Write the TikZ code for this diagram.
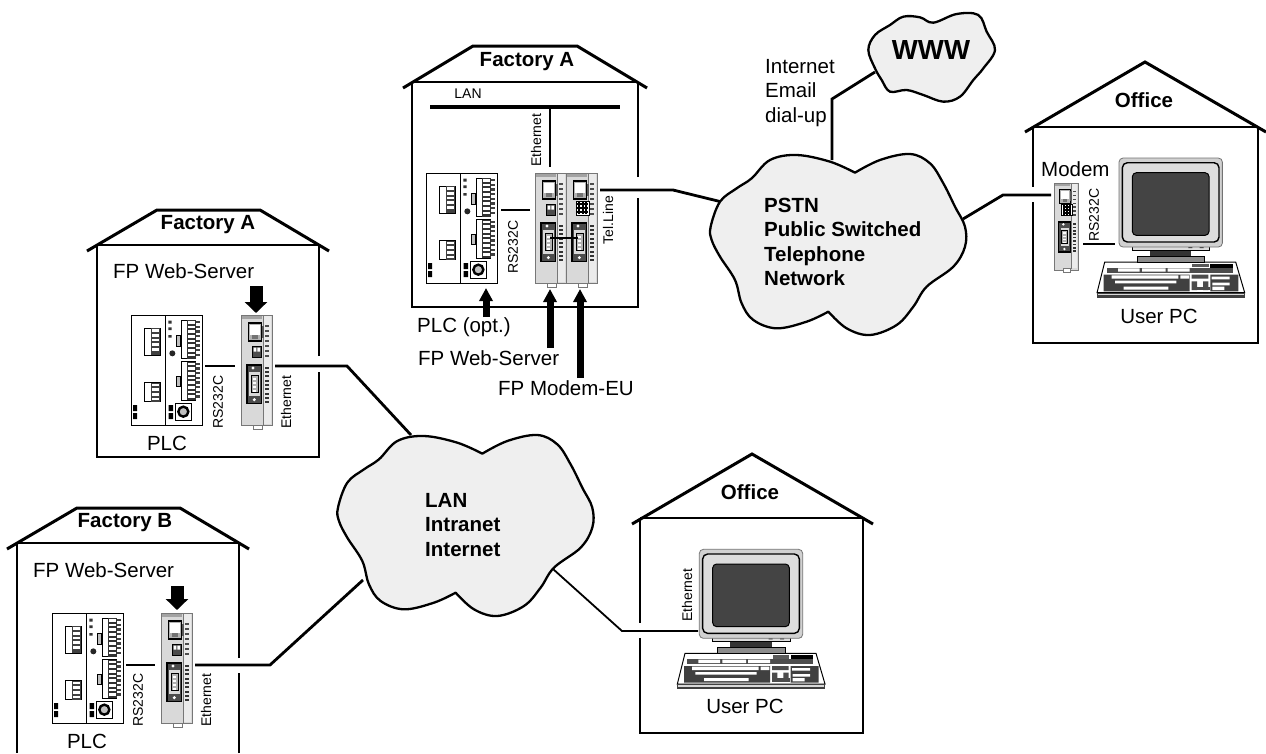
\documentclass[tikz,border=0pt]{standalone}
\usepackage{fontspec}
\setmainfont{Liberation Sans}
\usetikzlibrary{arrows.meta}
\definecolor{cloudfill}{HTML}{EFEFEF}
\definecolor{modfill}{HTML}{D9D9D9}
\definecolor{modline}{HTML}{777777}
\definecolor{monfill}{HTML}{DDDDDD}
\definecolor{screenfill}{HTML}{444444}
\newcommand{\lbl}{\fontsize{20.5}{24.5}\selectfont}
\newcommand{\blbl}{\fontsize{20.5}{24.5}\selectfont\bfseries}
\newcommand{\slbl}{\fontsize{14}{16}\selectfont}
\tikzset{
  wall/.style={line width=2.2pt},
  roofline/.style={line width=3pt,line cap=butt},
  conn/.style={line width=2.8pt,line join=miter},
  thickconn/.style={line width=3.4pt,line join=miter},
  thinconn/.style={line width=1.8pt,line join=miter},
  bigarrow/.style={line width=7pt,-{Triangle[length=13pt,width=13pt]}},
  fatarrow/.style={line width=13pt,-{Triangle[length=11pt,width=22pt]}},
  txt/.style={inner sep=0pt,font=\lbl},
  btxt/.style={inner sep=0pt,font=\blbl},
  stxt/.style={inner sep=0pt,font=\slbl,rotate=90},
  cloudline/.style={line width=2.3pt,fill=cloudfill,line join=round},
  plcbox/.style={draw,line width=1pt,fill=white,minimum width=71pt,minimum height=110pt,inner sep=0pt,anchor=north west},
  modbox/.style={draw=modline,line width=.8pt,fill=modfill,minimum width=31pt,minimum height=110pt,inner sep=0pt,anchor=north west},
  smallmodbox/.style={draw=modline,line width=.8pt,fill=modfill,minimum width=24pt,minimum height=87pt,inner sep=0pt,anchor=north west},
  cloudshape/.pic={
    \draw[cloudline] plot[smooth,tension=.6] coordinates {(465,518)(540,480)(630,462)(690,490)(730,550)(765,620)(795,680)(795,740)(760,800)(680,860)(640,920)(590,975)(510,1005)(440,985)(385,935)}
      -- plot[smooth,tension=.6] coordinates {(385,935)(320,965)(230,985)(160,960)(125,910)(105,840)(60,770)(35,720)(32,680)(60,605)(110,565)(155,535)(210,480)(290,465)(390,485)(465,518)} -- cycle;
  },
  wwwshape/.pic={
    \draw[cloudline] plot[smooth cycle,tension=.6] coordinates {(505,150)(525,105)(570,75)(610,50)(660,52)(700,68)(770,42)(835,45)(860,95)(885,150)(850,205)(820,240)(780,290)(730,305)(670,285)(620,270)(570,275)(545,240)(525,205)};
  },
  modunit/.pic={
    % local frame: 92 x 330, three times the pixel size
    \fill[black!8] (68,2) rectangle (90,328);
    \draw[modline,line width=.6pt] (68,0) -- (68,330);
    \fill[modfill!75!black] (4,3) rectangle (62,11);
    \draw[line width=1.1pt,fill=black!30] (22,24) rectangle (62,78);
    \fill[white] (27,30) rectangle (57,60);
    \fill[black!55] (33,60) rectangle (51,72);
    \fill[black!65] (62,32) rectangle (68,70);
    \draw[line width=.7pt,fill=black!70] (34,93) rectangle (60,126);
    \fill[white] (38,98) rectangle (46,110) (49,98) rectangle (57,110);
    \draw[line width=1.2pt,fill=black!70] (18,150) rectangle (62,265);
    \fill[modfill] (25,172) rectangle (56,243);
    \draw[line width=1pt,fill=black!30] (30,182) rectangle (51,233);
    \foreach \yy in {190,202,214,226} \fill[white] (35,\yy) rectangle (46,\yy+5);
    \fill[white] (36,159) circle (5) (40,254) circle (5);
    \foreach \yy in {30,45,...,120} \fill[black!70] (73,\yy) rectangle (84,\yy+5);
    \foreach \yy in {155,168,...,265} \fill[black!80] (73,\yy) rectangle (84,\yy+6);
    \draw[modline,line width=.7pt,fill=white] (36,330) rectangle (64,343);
  },
  modemcross/.pic={
    \draw[line width=1pt,fill=white] (30,84) rectangle (70,126);
    \draw[line width=2pt] (34,92) -- (66,92) (34,104) -- (66,104) (34,116) -- (66,116) (40,86) -- (40,124) (50,86) -- (50,124) (60,86) -- (60,124);
  },
  plcunit/.pic={
    % local frame: 213 x 330, three times the pixel size
    \draw[line width=1.3pt] (104,0) -- (104,330);
    \foreach \yy/\hh in {40/80,203/57} {
      \draw[line width=.8pt,fill=white] (40,\yy) rectangle (87,\yy+\hh);
      \fill[black!75] (60,\yy) rectangle (87,\yy+\hh);
      \foreach \k in {0,14,...,\numexpr\hh-14\relax} \fill[white] (63,\yy+\k+3) rectangle (84,\yy+\k+11);
    }
    \foreach \yy in {15,140} {
      \draw[line width=.8pt,fill=white] (150,\yy) rectangle (194,\yy+116);
      \fill[black!80] (168,\yy) rectangle (194,\yy+116);
      \foreach \k in {0,14,...,102} {
        \fill[white] (171,\yy+\k+3) rectangle (191,\yy+\k+11);
        \fill[black!75] (194,\yy+\k+3) rectangle (207,\yy+\k+10);
      }
    }
    \fill[black!80] (112,17) rectangle (122,26) (112,37) rectangle (122,45) (112,60) rectangle (122,68);
    \draw[line width=.6pt,fill=black!25] (137,60) rectangle (147,93) (137,183) rectangle (147,215);
    \fill[black!85] (124,115) circle (9);
    \draw[line width=1pt,fill=white] (132,265) rectangle (182,315);
    \draw[line width=2.4pt,fill=black!25] (157,290) circle (15);
    \fill[black] (6,270) rectangle (18,288) (6,294) rectangle (18,312) (113,270) rectangle (126,288) (113,294) rectangle (126,312);
  },
  pcunit/.pic={
    % keyboard
    \draw[line width=1pt,fill=white] (45,340) -- (438,340) -- (465,432) -- (22,432) -- cycle;
    \fill[black!75] (22,432) rectangle (465,447);
    \fill[black!15] (24,435) rectangle (463,440);
    \fill[black!70] (52,358) rectangle (430,372);
    \fill[white] (85,359) rectangle (150,369) (157,359) rectangle (228,369) (234,359) rectangle (300,369);
    \fill[black] (362,345) rectangle (430,358);
    \fill[black!65] (308,345) rectangle (358,356);
    \fill[black!75] (42,378) rectangle (300,428) (362,378) rectangle (446,428);
    \fill[white] (66,380) rectangle (266,390) (76,396) rectangle (260,404) (102,414) rectangle (236,423) (272,380) rectangle (298,390) (366,384) rectangle (420,392) (368,402) rectangle (420,410) (368,414) rectangle (404,424);
    \fill[black!70] (306,378) rectangle (356,390) (306,398) rectangle (322,424) (340,398) rectangle (356,424);
    \fill[black!70] (306,415) rectangle (360,425);
    \draw[line width=.8pt,fill=black!45] (142,322) rectangle (345,340);
    \fill[black!80] (180,305) rectangle (305,322);
    \draw[line width=.8pt,fill=monfill] (128,285) rectangle (360,305);
    \fill[black!85] (296,288) rectangle (308,298) (330,288) rectangle (342,298);
    % monitor
    \draw[line width=.8pt,rounded corners=4pt,fill=black!18,draw=black!55] (88,28) rectangle (398,295);
    \draw[line width=1.4pt,rounded corners=5pt,fill=monfill] (98,42) rectangle (388,280);
    \draw[line width=1pt,rounded corners=4pt,fill=screenfill] (128,72) rectangle (358,260);
  }
}
\begin{document}
\begin{tikzpicture}[x=1pt,y=-1pt]
\useasboundingbox (0,0) rectangle (1266,753);

% ---------- connector end points
\coordinate (wwwS) at (875,72);  \coordinate (wwwB) at (832,99);  \coordinate (pstnN) at (832,160);
\coordinate (telA) at (600,190); \coordinate (telB) at (673,190); \coordinate (pstnW) at (722,202);
\coordinate (pstnE) at (963,219);\coordinate (offA) at (1003,195);\coordinate (offB) at (1051,195);
\coordinate (offC) at (1083,244);\coordinate (offD) at (1115,244);
\coordinate (lanL) at (430,107); \coordinate (lanR) at (620,107); \coordinate (lanT) at (550,107); \coordinate (lanD) at (550,167);
\coordinate (rsA) at (501,210);  \coordinate (rsB) at (530,210);
\coordinate (jmpA) at (550,238); \coordinate (jmpB) at (578,238);
\coordinate (arA1) at (486,317); \coordinate (arA2) at (486,288);
\coordinate (arB1) at (550,348); \coordinate (arB2) at (550,289);
\coordinate (arC1) at (580,378); \coordinate (arC2) at (580,289);
\coordinate (fa1) at (205,366);  \coordinate (fa2) at (235,366);
\coordinate (fa3) at (275,366);  \coordinate (fa4) at (347,366);  \coordinate (lanNW) at (411,435);
\coordinate (fa5) at (256,286);  \coordinate (fa6) at (256,313);
\coordinate (fb1) at (126,665);  \coordinate (fb2) at (155,665);
\coordinate (fb3) at (195,665);  \coordinate (fb4) at (270,665);  \coordinate (lanSW) at (363,580);
\coordinate (fb5) at (177,586);  \coordinate (fb6) at (177,610);
\coordinate (lanSE) at (553,569);\coordinate (ofA) at (622,631);  \coordinate (ofB) at (698,631);

% ---------- houses
% Factory A (top)
\draw[wall] (412,82) -- (638,82) (412,82) -- (412,307) -- (638,307) -- (638,198) (638,177) -- (638,82);
\draw[roofline] (403,88) -- (473,46) -- (577,46) -- (647,88);
\node[btxt] (hA) at (527,62) {Factory A};
% Factory A (left)
\draw[wall] (97,245) -- (319,245) (97,245) -- (97,457) -- (319,457) -- (319,372) (319,356) -- (319,245);
\draw[roofline] (87,251) -- (157,210) -- (260,210) -- (329,251);
\node[btxt] (hB) at (208,225) {Factory A};
% Factory B
\draw[wall] (17,543) -- (239,543) (17,543) -- (17,753) (239,753) -- (239,673) (239,658) -- (239,543);
\draw[roofline] (7,549) -- (77,508) -- (180,508) -- (249,549);
\node[btxt] (hC) at (125,523) {Factory B};
% Office (bottom)
\draw[wall] (640,518) -- (863,518) (640,518) -- (640,623) (640,638) -- (640,733) -- (863,733) -- (863,518);
\draw[roofline] (632,524) -- (752,454) -- (873,524);
\node[btxt] (hD) at (750,492) {Office};
% Office (right)
\draw[wall] (1033,127) -- (1258,127) (1033,127) -- (1033,187) (1033,202) -- (1033,343) -- (1258,343) -- (1258,127);
\draw[roofline] (1025,132) -- (1145,62) -- (1266,132);
\node[btxt] (hE) at (1144,100) {Office};

% ---------- connectors
\draw[conn] (wwwS) -- (wwwB) -- (pstnN);
\draw[conn] (telA) -- (telB) -- (pstnW);
\draw[conn] (pstnE) -- (offA) -- (offB);
\draw[conn] (offC) -- (offD);
\draw[thickconn] (lanL) -- (lanR);
\draw[conn] (lanT) -- (lanD);
\draw[thinconn] (rsA) -- (rsB);
\draw[conn] (fa1) -- (fa2);
\draw[conn] (fa3) -- (fa4) -- (lanNW);
\draw[conn] (fb1) -- (fb2);
\draw[conn] (fb3) -- (fb4) -- (lanSW);
\draw[thinconn] (lanSE) -- (ofA) -- (ofB);

% ---------- clouds
\pic[scale=.33333] at (700,0) {cloudshape};
\pic[scale=.33333] at (327.3,281) {cloudshape};
\pic[scale=.33333] at (700,0) {wwwshape};
\node[btxt,anchor=west,align=left] (pstnT) at (764,242) {PSTN\\Public Switched\\Telephone\\Network};
\node[btxt,anchor=west,align=left] (lanT2) at (425,525) {LAN\\Intranet\\Internet};
\node[inner sep=0pt,font=\fontsize{27.6}{30}\selectfont\bfseries] (wwwT) at (931,50) {WWW};
\node[txt,anchor=west,align=left] (inetT) at (765,93) {Internet\\Email\\dial-up};

% ---------- Factory A (top) devices
\node[plcbox] (plcA) at (426,173) {};
\pic[scale=.33333] at (plcA.north west) {plcunit};
\node[modbox] (wsA) at (535,173) {};
\pic[scale=.33333] at (wsA.north west) {modunit};
\node[modbox] (mdA) at (566,173) {};
\pic[scale=.33333] at (mdA.north west) {modunit};
\pic[scale=.33333] at (mdA.north west) {modemcross};
\draw[conn] (jmpA) -- (jmpB);
\node[stxt] (tEthA) at (536,140) {Ethernet};
\node[stxt] (tRsA) at (513,247) {RS232C};
\node[stxt] (tTel) at (608,220) {Tel.Line};
\node[txt,font=\slbl] (tLan) at (468,94) {LAN};
\draw[bigarrow] (arA1) -- (arA2);
\draw[bigarrow] (arB1) -- (arB2);
\draw[bigarrow] (arC1) -- (arC2);
\node[txt,anchor=base west] (tPlcO) at (417,332) {PLC (opt.)};
\node[txt,anchor=base west] (tWsA) at (418,365) {FP Web-Server};
\node[txt,anchor=base west] (tMd) at (498,395) {FP Modem-EU};

% ---------- Factory A (left) devices
\node[plcbox] (plcB) at (131,315) {};
\pic[scale=.33333] at (plcB.north west) {plcunit};
\node[modbox] (wsB) at (241,315) {};
\pic[scale=.33333] at (wsB.north west) {modunit};
\draw[fatarrow] (fa5) -- (fa6);
\node[txt,anchor=base west] (tWsB) at (113,278) {FP Web-Server};
\node[txt,anchor=base] (tPlcB) at (167,450) {PLC};
\node[stxt] (tRsB) at (218,402) {RS232C};
\node[stxt] (tEthB) at (286,402) {Ethernet};

% ---------- Factory B devices
\node[plcbox] (plcC) at (52,613) {};
\pic[scale=.33333] at (plcC.north west) {plcunit};
\node[modbox] (wsC) at (161,613) {};
\pic[scale=.33333] at (wsC.north west) {modunit};
\draw[fatarrow] (fb5) -- (fb6);
\node[txt,anchor=base west] (tWsC) at (33,577) {FP Web-Server};
\node[txt,anchor=base] (tPlcC) at (87,748) {PLC};
\node[stxt] (tRsC) at (138,700) {RS232C};
\node[stxt] (tEthC) at (206,700) {Ethernet};

% ---------- Office (bottom)
\pic[scale=.33333] at (670,540) {pcunit};
\node[stxt] (tEthD) at (687,595) {Ethernet};
\node[txt,anchor=base] (tPcD) at (745,713) {User PC};

% ---------- Office (right)
\pic[scale=.33333] at (1089.7,148.7) {pcunit};
\node[smallmodbox] (mdB) at (1054,183) {};
\pic[scale=.26] at (mdB.north west) {modunit};
\pic[scale=.26] at (mdB.north west) {modemcross};
\node[txt,anchor=base west] (tMod) at (1041,176) {Modem};
\node[stxt] (tRsE) at (1094,215) {RS232C};
\node[txt,anchor=base] (tPcE) at (1159,323) {User PC};
\end{tikzpicture}
\end{document}
